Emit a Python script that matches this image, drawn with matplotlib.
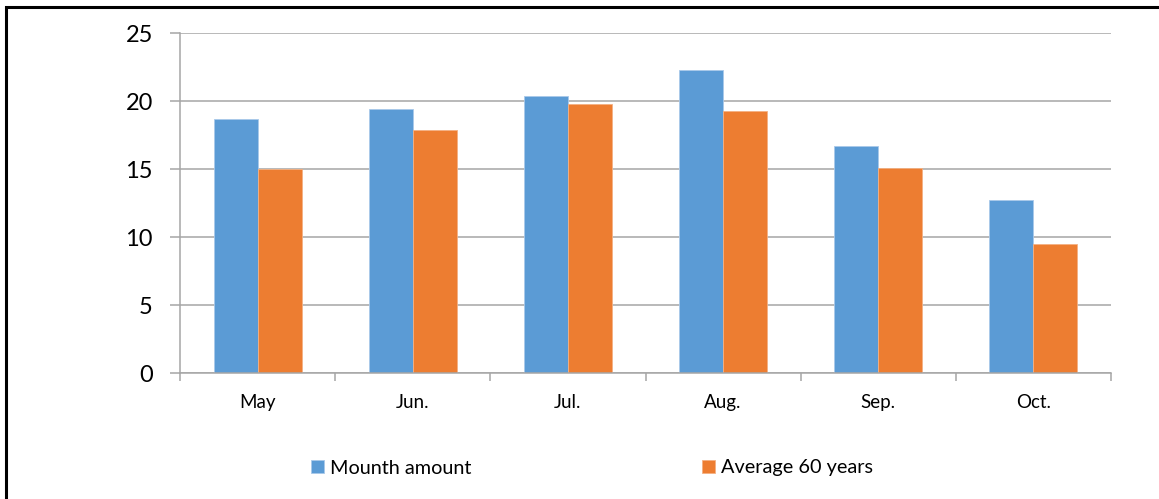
import matplotlib
matplotlib.use("Agg")
import matplotlib.pyplot as plt
import numpy as np
from matplotlib.patches import Rectangle

plt.rcParams['font.family'] = ['Lato', 'DejaVu Sans']

months = ["May", "Jun.", "Jul.", "Aug.", "Sep.", "Oct."]
month_amount = [18.7, 19.4, 20.4, 22.3, 16.7, 12.7]
average_60 = [15.0, 17.9, 19.8, 19.3, 15.1, 9.5]
y_ticks = [0, 5, 10, 15, 20, 25]

blue = "#5B9BD5"
orange = "#ED7D31"
grid_col = "#a6a6a6"

fig = plt.figure(figsize=(11.59, 4.99), dpi=100)
ax = fig.add_axes([180 / 1159, 1 - 373 / 499, (1111 - 180) / 1159, (373 - 33) / 499])

x = np.arange(len(months))
w = 0.284
b1 = ax.bar(x - w / 2, month_amount, w, color=blue, edgecolor="#a9c9ea",
            linewidth=0.6, label="Mounth amount", zorder=3)
b2 = ax.bar(x + w / 2, average_60, w, color=orange, edgecolor="#f4b183",
            linewidth=0.6, label="Average 60 years", zorder=3)

ax.set_xlim(-0.5, len(months) - 0.5)
ax.set_ylim(0, 25)
ax.set_yticks(y_ticks)
ax.set_yticklabels([str(v) for v in y_ticks], fontsize=17)
ax.yaxis.grid(True, color=grid_col, linewidth=1.1, zorder=0)

ax.set_xticks(x)
ax.set_xticklabels(months, fontsize=13.5)
ax.set_xticks(np.arange(-0.5, len(months)), minor=True)
ax.tick_params(axis="x", which="major", length=0, pad=15)
ax.tick_params(axis="x", which="minor", length=6, color=grid_col, width=1.1)
ax.tick_params(axis="y", length=7, color=grid_col, width=1.1, pad=12.5)

for s in ["top", "right"]:
    ax.spines[s].set_visible(False)
for s in ["left", "bottom"]:
    ax.spines[s].set_color(grid_col)
    ax.spines[s].set_linewidth(1.1)
    ax.spines[s].set_zorder(4)

handles = [b1, b2]
leg = fig.legend(handles, ["Mounth amount", "Average 60 years"],
                 loc="center", bbox_to_anchor=(592 / 1159, 1 - 468 / 499),
                 ncol=2, frameon=False, fontsize=14.3, handlelength=0.65,
                 handleheight=0.65, handletextpad=0.3, columnspacing=11.6)

# outer chart frame (left and top edges visible)
fig.patches.append(Rectangle((6 / 1159, -0.2), 1.3, 1 - 7 / 499 + 0.2,
                             transform=fig.transFigure, fill=False,
                             edgecolor="black", linewidth=2.2, zorder=10))

fig.savefig("out.png", dpi=100)
